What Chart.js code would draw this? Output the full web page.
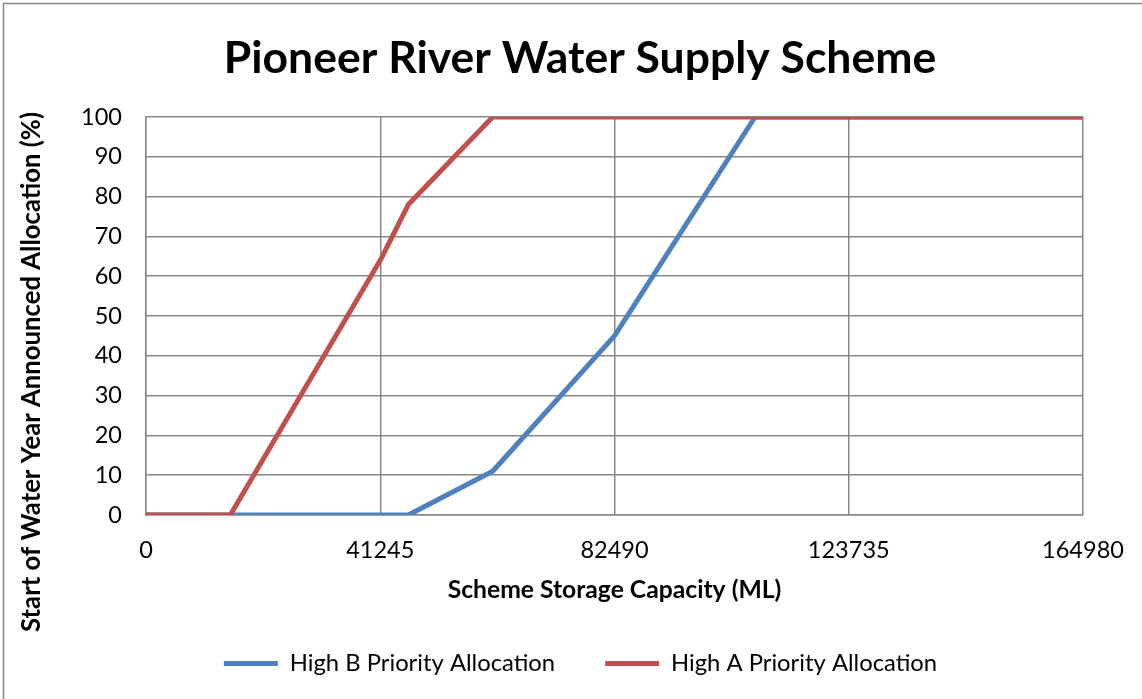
<!DOCTYPE html>
<html>
<head>
<meta charset="utf-8">
<script src="https://cdn.jsdelivr.net/npm/chart.js@4"></script>
<style>
  html, body { margin: 0; padding: 0; background: #fff; }
  #wrap { width: 1142px; height: 699px; position: relative; }
</style>
</head>
<body>
<div id="wrap"><canvas id="c" width="1142" height="699"></canvas></div>
<script>
// ---- data ----
const chartTitle = "Pioneer River Water Supply Scheme";
const xAxisTitle = "Scheme Storage Capacity (ML)";
const yAxisTitle = "Start of Water Year Announced Allocation (%)";
const xTicks = [0, 41245, 82490, 123735, 164980];
const highBCapacity = [0, 46194, 61043, 82490, 107237, 164980];
const highBAllocation = [0, 0, 11, 45, 100, 100];
const highACapacity = [0, 14848, 41245, 46194, 61043, 164980];
const highAAllocation = [0, 0, 64, 78, 100, 100];
const seriesNames = ["High B Priority Allocation", "High A Priority Allocation"];
const seriesColors = ["#4F81BD", "#C0504D"];

const FONT = "Lato, 'Liberation Sans', sans-serif";
const GRID = "#878787";

function toPoints(xs, ys) { return xs.map((x, i) => ({ x: x, y: ys[i] })); }

const borderPlugin = {
  id: 'outerBorder',
  beforeDraw(chart) {
    const ctx = chart.ctx;
    ctx.save();
    ctx.fillStyle = '#fff';
    ctx.fillRect(0, 0, chart.width, chart.height);
    ctx.strokeStyle = GRID;
    ctx.lineWidth = 1.5;
    ctx.strokeRect(3.5, 3.5, chart.width + 10, chart.height + 10);
    ctx.restore();
  }
};

// shift title, legend and y-axis title to match the original's placement
const shiftPlugin = {
  id: 'shiftBlocks',
  afterLayout(chart) {
    if (chart.titleBlock) { chart.titleBlock.left += 33.5; chart.titleBlock.right += 33.5; }
    if (chart.legend) { chart.legend.left += 34; chart.legend.right += 34; }
    const ys = chart.scales.y;
    if (ys && !ys._titleShifted) {
      const orig = ys.drawTitle;
      ys.drawTitle = function () {
        const t = this.top, b = this.bottom;
        this.top = t + 56; this.bottom = b + 56;
        orig.call(this);
        this.top = t; this.bottom = b;
      };
      ys._titleShifted = true;
    }
  }
};

new Chart(document.getElementById('c'), {
  type: 'scatter',
  data: {
    datasets: [
      { label: seriesNames[0], data: toPoints(highBCapacity, highBAllocation), showLine: true,
        borderColor: seriesColors[0], backgroundColor: seriesColors[0], borderWidth: 5, order: 1,
        pointRadius: 0, pointHoverRadius: 0, tension: 0, borderJoinStyle: 'round' },
      { label: seriesNames[1], data: toPoints(highACapacity, highAAllocation), showLine: true,
        borderColor: seriesColors[1], backgroundColor: seriesColors[1], borderWidth: 5, order: 0,
        pointRadius: 0, pointHoverRadius: 0, tension: 0, borderJoinStyle: 'round' }
    ]
  },
  options: {
    responsive: false,
    animation: false,
    layout: { padding: { left: 10, right: 59, top: 0, bottom: 13.6 } },
    plugins: {
      tooltip: { enabled: false },
      title: {
        display: true, text: chartTitle, color: '#000',
        font: { family: FONT, size: 44.5, weight: 'bold' },
        padding: { top: 32, bottom: 31.6 }
      },
      legend: {
        position: 'bottom',
        labels: {
          color: '#000',
          font: { family: FONT, size: 23.8 },
          boxWidth: 54, boxHeight: 5, padding: 50,
          sort: (a, b) => a.datasetIndex - b.datasetIndex,
          generateLabels(chart) {
            const items = Chart.defaults.plugins.legend.labels.generateLabels(chart);
            items.forEach(it => { it.lineWidth = 0; it.fillStyle = it.strokeStyle; });
            return items;
          }
        }
      }
    },
    scales: {
      x: {
        type: 'linear', min: 0, max: 164980,
        afterBuildTicks(scale) { scale.ticks = xTicks.map(v => ({ value: v })); },
        afterFit(scale) { scale.height = 86.6; scale.paddingLeft = 0; scale.paddingRight = 0; },
        grid: { color: GRID, lineWidth: 1.5, drawTicks: false },
        border: { color: GRID, width: 1.5 },
        ticks: { color: '#000', font: { family: FONT, size: 23.5 }, padding: 21, maxRotation: 0,
                 callback: v => String(v) },
        title: { display: true, text: xAxisTitle, color: '#000',
                 font: { family: FONT, size: 24.7, weight: 'bold' }, padding: { top: 0, bottom: -3.2 } }
      },
      y: {
        min: 0, max: 100,
        ticks: { stepSize: 10, color: '#000', font: { family: FONT, size: 23.5 }, padding: 24 },
        afterFit(scale) { scale.width = 136; scale.paddingTop = 0; scale.paddingBottom = 0; },
        grid: { color: GRID, lineWidth: 1.5, drawTicks: false },
        border: { color: GRID, width: 1.5 },
        title: { display: true, text: yAxisTitle, color: '#000',
                 font: { family: FONT, size: 25.7, weight: 'bold' }, padding: { top: 6.5, bottom: 0 } }
      }
    }
  },
  plugins: [borderPlugin, shiftPlugin]
});
</script>
</body>
</html>
